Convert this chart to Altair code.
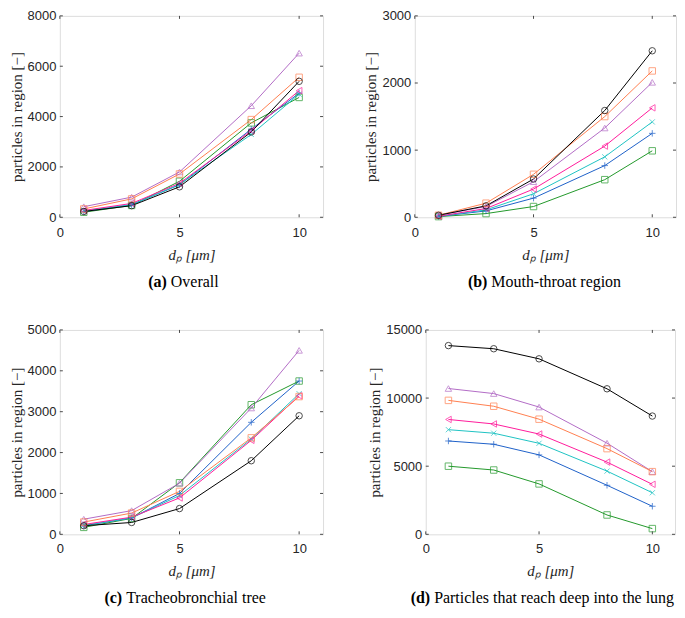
import altair as alt
import pandas as pd

# ---------------- data ----------------
DP = [1, 3, 5, 8, 10]
SERIES = ["green", "blue", "cyan", "magenta", "purple", "orange", "black"]
COLORS = ["#23992B", "#1F61C9", "#1FC3C3", "#FF1C9C", "#B36CC6", "#FF7F50", "#000000"]
PLUS = "M-1,0L1,0M0,-1L0,1"
CROSS = "M-0.8,-0.8L0.8,0.8M-0.8,0.8L0.8,-0.8"
SHAPES = ["square", PLUS, CROSS, "triangle-left", "triangle-up", "square", "circle"]

overall = {
    "purple": [420, 800, 1800, 4430, 6520],
    "orange": [330, 730, 1720, 3880, 5560],
    "black": [230, 460, 1210, 3390, 5400],
    "magenta": [270, 550, 1350, 3440, 5030],
    "green": [200, 470, 1430, 3750, 4760],
    "cyan": [250, 500, 1300, 3290, 4890],
    "blue": [230, 500, 1290, 3500, 4930],
}
mouth_throat = {
    "black": [30, 170, 570, 1590, 2480],
    "orange": [30, 210, 640, 1500, 2180],
    "purple": [30, 160, 530, 1330, 2010],
    "magenta": [15, 130, 420, 1060, 1630],
    "cyan": [15, 110, 350, 900, 1420],
    "blue": [12, 95, 285, 770, 1250],
    "green": [10, 55, 160, 560, 990],
}
tracheo = {
    "purple": [370, 580, 1250, 3090, 4500],
    "green": [170, 390, 1260, 3170, 3750],
    "blue": [210, 400, 1000, 2740, 3750],
    "cyan": [220, 400, 950, 2330, 3440],
    "orange": [300, 520, 1050, 2360, 3370],
    "magenta": [240, 420, 890, 2300, 3390],
    "black": [210, 290, 630, 1800, 2900],
}
deep_lung = {
    "black": [13850, 13620, 12880, 10680, 8680],
    "purple": [10700, 10330, 9340, 6690, 4600],
    "orange": [9830, 9400, 8450, 6290, 4600],
    "magenta": [8430, 8100, 7360, 5300, 3670],
    "cyan": [7680, 7420, 6680, 4640, 3050],
    "blue": [6850, 6610, 5830, 3600, 2060],
    "green": [5000, 4720, 3700, 1420, 420],
}
X_TICKS = [0, 5, 10]
Y_TICKS_A = [0, 2000, 4000, 6000, 8000]
Y_TICKS_B = [0, 1000, 2000, 3000]
Y_TICKS_C = [0, 1000, 2000, 3000, 4000, 5000]
Y_TICKS_D = [0, 5000, 10000, 15000]

SERIF = "Liberation Serif"
SANS = "Liberation Sans"
FRAME = "#4a4a4a"
LABEL = "#262626"
TL = 3  # inward tick length


def panel(data, ymax, yticks, W, H, bold, rest, center, bold_w, rest_w, cap_dy,
          lab_pad, tit_pad):
    df = pd.DataFrame(
        [{"dp": x, "n": v, "s": s} for s in SERIES for x, v in zip(DP, data[s])]
    )
    xscale = alt.Scale(domain=[0, 11], nice=False, zero=False)
    yscale = alt.Scale(domain=[0, ymax], nice=False)
    xaxis = alt.Axis(
        values=X_TICKS, title="dₚ [μm]", titleFont=SERIF, titleFontStyle="italic",
        titleFontWeight="normal", titleFontSize=15, titleColor=LABEL,
        labelFont=SANS, labelFontSize=13, labelColor=LABEL, labelPadding=lab_pad,
        titlePadding=tit_pad, ticks=False, tickSize=0, domain=False, grid=False,
        format="d", labelFlush=False,
    )
    yaxis = alt.Axis(
        values=yticks, title="particles in region [−]", titleFont=SERIF,
        titleFontWeight="normal", titleFontSize=15, titleColor=LABEL,
        labelFont=SANS, labelFontSize=13, labelColor=LABEL, labelPadding=4,
        titlePadding=3, ticks=False, tickSize=0, domain=False, grid=False,
        format="d",
    )
    X = alt.X("dp:Q", scale=xscale, axis=xaxis)
    Y = alt.Y("n:Q", scale=yscale, axis=yaxis)
    color = alt.Color("s:N", scale=alt.Scale(domain=SERIES, range=COLORS), legend=None)
    shape = alt.Shape("s:N", scale=alt.Scale(domain=SERIES, range=SHAPES), legend=None)

    lines = alt.Chart(df).mark_line(strokeWidth=1).encode(x=X, y=Y, color=color)
    points = alt.Chart(df).mark_point(filled=False, size=42, strokeWidth=1).encode(
        x=X, y=Y, color=color, shape=shape
    )

    xt = pd.DataFrame({"dp": X_TICKS})
    yt = pd.DataFrame({"n": yticks})
    tb = alt.Chart(xt).mark_rule(color=FRAME, strokeWidth=1).encode(
        x=X, y=alt.value(H), y2=alt.value(H - TL))
    tt = alt.Chart(xt).mark_rule(color=FRAME, strokeWidth=1).encode(
        x=X, y=alt.value(0), y2=alt.value(TL))
    tl = alt.Chart(yt).mark_rule(color=FRAME, strokeWidth=1).encode(
        y=Y, x=alt.value(0), x2=alt.value(TL))
    tr = alt.Chart(yt).mark_rule(color=FRAME, strokeWidth=1).encode(
        y=Y, x=alt.value(W), x2=alt.value(W - TL))

    start = center - (bold_w + 4 + rest_w) / 2
    cap1 = alt.Chart(pd.DataFrame({"t": [bold]})).mark_text(
        font=SERIF, fontSize=16, fontWeight="bold", align="right",
        baseline="alphabetic", color="black"
    ).encode(text="t:N", x=alt.value(start + bold_w), y=alt.value(H + cap_dy))
    cap2 = alt.Chart(pd.DataFrame({"t": [rest]})).mark_text(
        font=SERIF, fontSize=16, fontWeight="normal", align="left",
        baseline="alphabetic", color="black"
    ).encode(text="t:N", x=alt.value(start + bold_w + 4), y=alt.value(H + cap_dy))

    return alt.layer(lines, points, tb, tt, tl, tr, cap1, cap2).properties(
        width=W, height=H
    )


H1 = 202
H2 = 205
pa = panel(overall, 8000, Y_TICKS_A, 264, H1, "(a)", "Overall", 124, 18.7, 48.0, 70, 9, 8)
pb = panel(mouth_throat, 3000, Y_TICKS_B, 262, H1, "(b)", "Mouth-throat region", 130, 19.6, 130.0, 70, 9, 8)
pc = panel(tracheo, 5000, Y_TICKS_C, 264, H2, "(c)", "Tracheobronchial tree", 126, 17.8, 140.8, 69, 8, 8)
pd_ = panel(deep_lung, 15000, Y_TICKS_D, 250, H2, "(d)", "Particles that reach deep into the lung", 117, 19.6, 240.8, 69, 8, 8)

row1 = alt.hconcat(pa, pb, spacing=39)
row2 = alt.hconcat(pc, pd_, spacing=43)
chart = alt.vconcat(row1, row2, spacing=32).properties(padding=0).configure_view(
    stroke=FRAME, strokeWidth=1
).configure(background="white")

chart.save("out.html", embed_options={"renderer": "svg", "actions": False})
